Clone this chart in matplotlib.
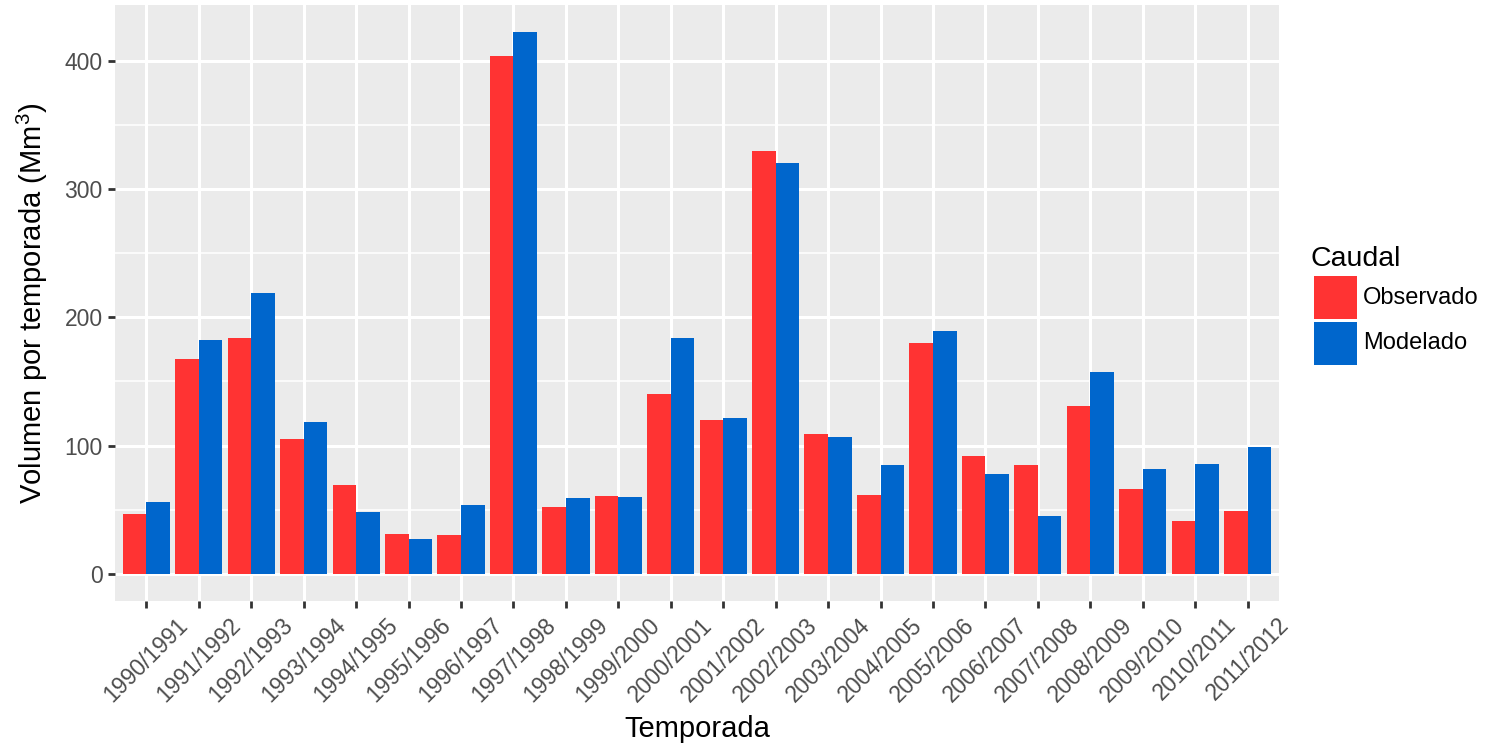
import matplotlib
matplotlib.use("Agg")
import matplotlib.pyplot as plt
import numpy as np
from matplotlib.patches import Rectangle

plt.rcParams['font.family'] = ['Liberation Sans', 'DejaVu Sans']
plt.rcParams['mathtext.fontset'] = 'custom'
plt.rcParams['mathtext.rm'] = 'Liberation Sans'
plt.rcParams['mathtext.it'] = 'Liberation Sans'
plt.rcParams['mathtext.default'] = 'regular'

temporadas = ["1990/1991", "1991/1992", "1992/1993", "1993/1994", "1994/1995",
              "1995/1996", "1996/1997", "1997/1998", "1998/1999", "1999/2000",
              "2000/2001", "2001/2002", "2002/2003", "2003/2004", "2004/2005",
              "2005/2006", "2006/2007", "2007/2008", "2008/2009", "2009/2010",
              "2010/2011", "2011/2012"]
observado = [46.8, 167.8, 183.5, 105.4, 69.5, 31.2, 30.4, 403.6, 52.3, 60.9,
             140.5, 120.2, 329.4, 109.3, 61.7, 180.3, 92.1, 85.1, 131.1, 66.4,
             41.4, 49.2]
modelado = [56.2, 182.7, 218.6, 118.7, 48.4, 27.3, 53.9, 422.3, 59.3, 60.1,
            183.5, 121.8, 320.0, 106.9, 85.1, 189.7, 78.1, 45.3, 157.7, 82.0,
            85.9, 99.1]
series_names = ["Observado", "Modelado"]
series_colors = ["#FF3333", "#0066CC"]

W, H = 1492, 749
fig = plt.figure(figsize=(W / 100, H / 100), dpi=100)
ax = fig.add_axes([115 / W, 1 - 601 / H, (1279 - 115) / W, (601 - 5) / H])
ax.set_facecolor("#EBEBEB")

x = np.arange(len(temporadas))
bw = 0.45
for vals, col, off in zip([observado, modelado], series_colors, [-bw / 2, bw / 2]):
    ax.bar(x + off, vals, width=bw, color=col, linewidth=0, zorder=3)

ymax = max(max(observado), max(modelado))
pad = 0.05 * ymax
ax.set_ylim(-pad, ymax + pad)
ax.set_xlim(-0.6, len(temporadas) - 1 + 0.6)

ax.set_yticks([0, 100, 200, 300, 400])
ax.set_yticks([50, 150, 250, 350], minor=True)
ax.set_xticks(x)
ax.set_xticklabels(temporadas, rotation=45, ha='center', va='top')

ax.grid(True, which='major', color='white', linewidth=2.2, zorder=0)
ax.grid(True, which='minor', axis='y', color='white', linewidth=1.1, zorder=0)
ax.set_axisbelow(True)
for s in ax.spines.values():
    s.set_visible(False)

ax.tick_params(axis='both', which='major', colors='#333333', length=5, width=2,
               labelsize=16.5, labelcolor='#4D4D4D', pad=4)
ax.tick_params(axis='x', pad=4)
ax.tick_params(which='minor', length=0)

# axis titles
fig.text(697 / W, 1 - 737 / H, "Temporada", fontsize=21, color='black',
         ha='center', va='baseline')
ax.set_ylabel("Volumen por temporada (Mm$^{3}$)", fontsize=21, color='black',
              labelpad=10)

# legend
fig.text(1311 / W, 1 - 266 / H, "Caudal", fontsize=20.5, color='black',
         ha='left', va='baseline')
key_tops = [276, 322]
for top, col, name in zip(key_tops, series_colors, series_names):
    fig.add_artist(Rectangle((1314 / W, 1 - (top + 43) / H), 43 / W, 43 / H,
                             transform=fig.transFigure, facecolor=col,
                             edgecolor='none'))
    fig.text(1363 / W, 1 - (top + 21.5) / H, name, fontsize=17, color='black',
             ha='left', va='center')

fig.savefig("out.png", dpi=100, facecolor='white')
